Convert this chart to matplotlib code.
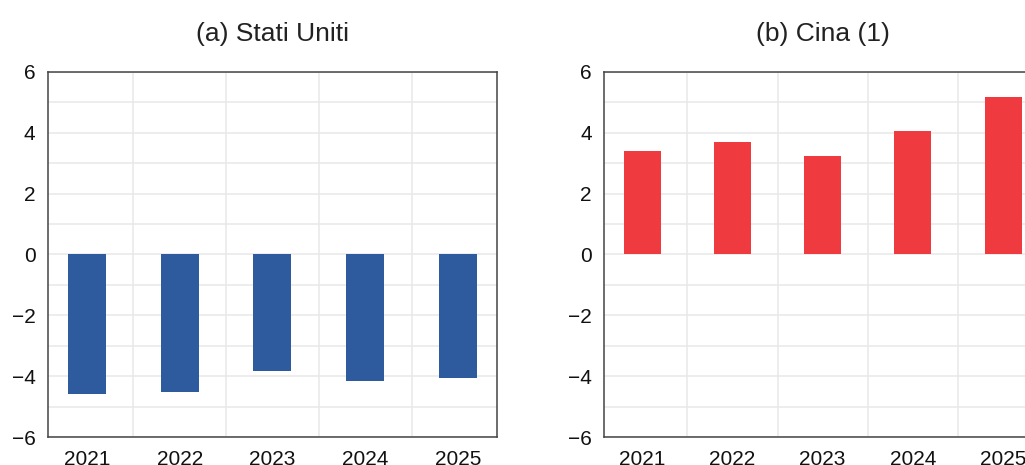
import matplotlib
matplotlib.use("Agg")
import matplotlib.pyplot as plt
import numpy as np

plt.rcParams["font.family"] = ["Liberation Sans", "DejaVu Sans"]

# Dati
anni = ["2021", "2022", "2023", "2024", "2025"]
stati_uniti = [-4.6, -4.52, -3.82, -4.16, -4.05]
cina = [3.41, 3.71, 3.24, 4.06, 5.18]
titoli = ["(a) Stati Uniti", "(b) Cina (1)"]
colori = ["#2E5A9E", "#EF3B40"]
y_ticks = [-6, -4, -2, 0, 2, 4, 6]

fig = plt.figure(figsize=(10.25, 4.65), dpi=100)
ax_us = fig.add_axes([0.0468, 0.0602, 0.438, 0.785])
ax_cn = fig.add_axes([0.5896, 0.0602, 0.426, 0.785])

x = np.arange(len(anni))
for ax, valori, titolo, colore in zip([ax_us, ax_cn], [stati_uniti, cina], titoli, colori):
    ax.bar(x, valori, width=0.41, color=colore, zorder=3)
    ax.set_xlim(-0.42, 4.42)
    ax.set_ylim(-6, 6)
    ax.set_xticks(x)
    ax.set_xticklabels(anni)
    ax.set_xticks(x[:-1] + 0.5, minor=True)
    ax.set_yticks(y_ticks)
    ax.set_yticks(np.arange(-5, 6, 2), minor=True)
    ax.grid(True, which="major", axis="y", color="#e8e8e8", linewidth=1.1, zorder=0)
    ax.grid(True, which="minor", color="#e8e8e8", linewidth=1.1, zorder=0)
    ax.tick_params(which="both", length=0, labelsize=15, colors="#111111")
    ax.tick_params(axis="y", pad=9)
    ax.tick_params(axis="x", pad=9)
    for spine in ax.spines.values():
        spine.set_color("#444444")
        spine.set_linewidth(1.1)
    ax.set_title(titolo, fontsize=19, pad=22, color="#222222")

fig.savefig("out.png", dpi=100)
